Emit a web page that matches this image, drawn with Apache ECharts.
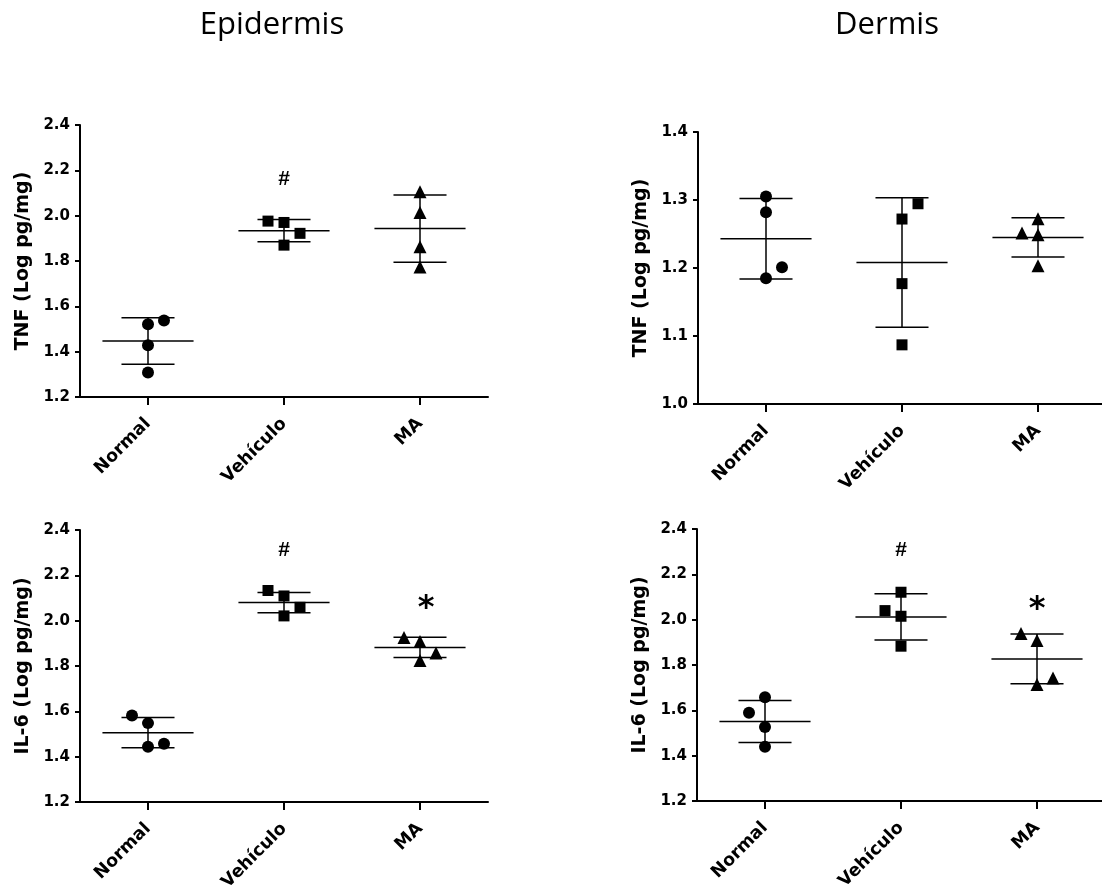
<!DOCTYPE html>
<html>
<head>
<meta charset="utf-8">
<script src="https://cdn.jsdelivr.net/npm/echarts@6/dist/echarts.min.js"></script>
<style>
html,body{margin:0;padding:0;background:#fff;}
#chart{width:1102px;height:889px;}
</style>
</head>
<body>
<div id="chart"></div>
<script>
// ---------- DATA ----------
const categories = ['Normal', 'Vehículo', 'MA'];
const panelTitles = ['Epidermis', 'Dermis'];
const yAxisNames = ['TNF (Log pg/mg)', 'TNF (Log pg/mg)', 'IL-6 (Log pg/mg)', 'IL-6 (Log pg/mg)'];

const ticksTnfEpi  = [1.2, 1.4, 1.6, 1.8, 2.0, 2.2, 2.4];
const ticksTnfDerm = [1.0, 1.1, 1.2, 1.3, 1.4];
const ticksIl6Epi  = [1.2, 1.4, 1.6, 1.8, 2.0, 2.2, 2.4];
const ticksIl6Derm = [1.2, 1.4, 1.6, 1.8, 2.0, 2.2, 2.4];

// individual values per group (Normal, Vehículo, MA)
const tnfEpiNormal = [1.521, 1.537, 1.428, 1.308];
const tnfEpiVeh    = [1.976, 1.970, 1.922, 1.870];
const tnfEpiMA     = [2.106, 2.014, 1.863, 1.774];
const tnfEpiMean   = [1.447, 1.934, 1.943];
const tnfEpiSD     = [0.1025, 0.049, 0.148];

const tnfDermNormal = [1.305, 1.282, 1.201, 1.185];
const tnfDermVeh    = [1.2945, 1.272, 1.177, 1.087];
const tnfDermMA     = [1.2513, 1.2488, 1.2724, 1.2032];
const tnfDermMean   = [1.243, 1.208, 1.245];
const tnfDermSD     = [0.0592, 0.0952, 0.029];

const il6EpiNormal = [1.582, 1.548, 1.444, 1.457];
const il6EpiVeh    = [2.133, 2.109, 2.059, 2.021];
const il6EpiMA     = [1.926, 1.908, 1.857, 1.824];
const il6EpiMean   = [1.506, 2.080, 1.882];
const il6EpiSD     = [0.0665, 0.0448, 0.0448];

const il6DermNormal = [1.589, 1.658, 1.526, 1.439];
const il6DermVeh    = [2.040, 2.121, 2.015, 1.883];
const il6DermMA     = [1.939, 1.908, 1.714, 1.743];
const il6DermMean   = [1.551, 2.012, 1.827];
const il6DermSD     = [0.0926, 0.102, 0.110];

// significance marks: category index, text, value
const annotTnfEpi  = [[1, '#', 2.160]];
const annotTnfDerm = [];
const annotIl6Epi  = [[1, '#', 2.310], [2, '*', 2.052]];
const annotIl6Derm = [[1, '#', 2.307], [2, '*', 2.046]];

// ---------- LAYOUT (point spreading slots, grids) ----------
const spreadTnfEpi  = [[0, 1, 0, 0], [-1, 0, 1, 0], [0, 0, 0, 0]];
const spreadTnfDerm = [[0, 0, 1, 0], [1, 0, 0, 0], [-1, 0, 0, 0]];
const spreadIl6Epi  = [[-1, 0, 0, 1], [-1, 0, 1, 0], [-1, 0, 1, 0]];
const spreadIl6Derm = [[-1, 0, 0, 0], [-1, 0, 0, 0], [-1, 0, 0, 1]];
const SLOT_PX = 16;

const panels = [
  {grid: {left: 80,  top: 125, width: 408, height: 272}, ticks: ticksTnfEpi,
   groups: [tnfEpiNormal, tnfEpiVeh, tnfEpiMA], mean: tnfEpiMean, sd: tnfEpiSD, spread: spreadTnfEpi, annot: annotTnfEpi, starDx: 0},
  {grid: {left: 698, top: 132, width: 408, height: 272}, ticks: ticksTnfDerm,
   groups: [tnfDermNormal, tnfDermVeh, tnfDermMA], mean: tnfDermMean, sd: tnfDermSD, spread: spreadTnfDerm, annot: annotTnfDerm, starDx: 0},
  {grid: {left: 80,  top: 530, width: 408, height: 272}, ticks: ticksIl6Epi,
   groups: [il6EpiNormal, il6EpiVeh, il6EpiMA], mean: il6EpiMean, sd: il6EpiSD, spread: spreadIl6Epi, annot: annotIl6Epi, starDx: 6},
  {grid: {left: 697, top: 529, width: 408, height: 272}, ticks: ticksIl6Derm,
   groups: [il6DermNormal, il6DermVeh, il6DermMA], mean: il6DermMean, sd: il6DermSD, spread: spreadIl6Derm, annot: annotIl6Derm, starDx: 0}
];

const symbols = ['circle', 'rect', 'triangle'];
const symbolSizes = [12, 11, 13];
const LBL_FONT = 'DejaVu Sans';

const grids = [], xAxes = [], yAxes = [], series = [];

panels.forEach((p, i) => {
  grids.push(Object.assign({containLabel: false, outerBoundsMode: 'none'}, p.grid));
  xAxes.push({
    type: 'category', gridIndex: i, data: categories, boundaryGap: true,
    axisLine: {lineStyle: {color: '#000', width: 2}},
    axisTick: {show: true, alignWithLabel: true, length: 8, lineStyle: {color: '#000', width: 2}},
    axisLabel: {rotate: 45, margin: 24, color: '#000', fontFamily: LBL_FONT, fontWeight: 'bold', fontSize: 17.5, interval: 0},
    splitLine: {show: false}
  });
  const t = p.ticks;
  yAxes.push({
    type: 'value', gridIndex: i, min: t[0], max: t[t.length - 1], interval: +(t[1] - t[0]).toFixed(4),
    name: yAxisNames[i], nameLocation: 'middle', nameGap: 47, nameRotate: 90,
    nameTextStyle: {color: '#000', fontFamily: LBL_FONT, fontWeight: 'bold', fontSize: 19},
    axisLine: {show: true, lineStyle: {color: '#000', width: 2}},
    axisTick: {show: true, length: 5, lineStyle: {color: '#000', width: 2}},
    axisLabel: {color: '#000', fontFamily: LBL_FONT, fontWeight: 'bold', fontSize: 15, margin: 10,
                formatter: v => v.toFixed(1)},
    splitLine: {show: false}
  });

  // individual points
  p.groups.forEach((vals, g) => {
    series.push({
      type: 'scatter', xAxisIndex: i, yAxisIndex: i,
      symbol: symbols[g], symbolSize: symbolSizes[g],
      itemStyle: {color: '#000', opacity: 1},
      data: vals.map((v, k) => ({value: [g, v], symbolOffset: [p.spread[g][k] * SLOT_PX, 0]})),
      z: 3, silent: true
    });
  });

  // mean +/- SD
  series.push({
    type: 'custom', xAxisIndex: i, yAxisIndex: i, z: 2, silent: true,
    data: p.mean.map((m, g) => [g, m, m - p.sd[g], m + p.sd[g]]),
    renderItem: (params, api) => {
      const band = api.size([1, 0])[0];
      const c = api.coord([api.value(0), api.value(1)]);
      const lo = api.coord([api.value(0), api.value(2)]);
      const hi = api.coord([api.value(0), api.value(3)]);
      const mw = band * 0.335, cw = band * 0.195;
      const st = {stroke: '#000', lineWidth: 1.5};
      return {type: 'group', children: [
        {type: 'line', shape: {x1: c[0] - mw, y1: c[1], x2: c[0] + mw, y2: c[1]}, style: st},
        {type: 'line', shape: {x1: c[0], y1: lo[1], x2: c[0], y2: hi[1]}, style: st},
        {type: 'line', shape: {x1: c[0] - cw, y1: lo[1], x2: c[0] + cw, y2: lo[1]}, style: st},
        {type: 'line', shape: {x1: c[0] - cw, y1: hi[1], x2: c[0] + cw, y2: hi[1]}, style: st}
      ]};
    }
  });

  // significance marks
  if (p.annot.length) {
    series.push({
      type: 'custom', xAxisIndex: i, yAxisIndex: i, z: 4, silent: true,
      data: p.annot.map(a => [a[0], a[2], a[1]]),
      renderItem: (params, api) => {
        const c = api.coord([api.value(0), api.value(1)]);
        const txt = p.annot[params.dataIndex][1];
        const star = txt === '*';
        return {type: 'text', x: c[0] + (star ? p.starDx : 0), y: c[1], style: {
          text: txt, align: 'center', verticalAlign: 'middle', fill: '#000',
          font: star ? 'bold 32px "DejaVu Sans"' : 'bold 21px "Liberation Sans"'
        }};
      }
    });
  }
});

const chart = echarts.init(document.getElementById('chart'), null, {renderer: 'canvas'});
chart.setOption({
  animation: false,
  backgroundColor: '#fff',
  title: [
    {text: panelTitles[0], left: 267, top: 5, textAlign: 'center',
     textStyle: {fontFamily: 'Open Sans', fontWeight: 'normal', fontSize: 31, color: '#000'}},
    {text: panelTitles[1], left: 882, top: 5, textAlign: 'center',
     textStyle: {fontFamily: 'Open Sans', fontWeight: 'normal', fontSize: 31, color: '#000'}}
  ],
  grid: grids, xAxis: xAxes, yAxis: yAxes, series: series
});
</script>
</body>
</html>
